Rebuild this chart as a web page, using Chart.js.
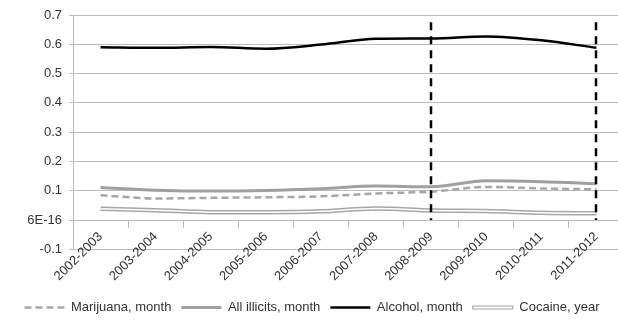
<!DOCTYPE html>
<html>
<head>
<meta charset="utf-8">
<script src="https://cdn.jsdelivr.net/npm/chart.js@4/dist/chart.umd.min.js"></script>
<style>
  html, body { margin: 0; padding: 0; background: #fff; overflow: hidden; }
  /* el area del grafico sobrepasa un poco el borde derecho, como en el original */
  #wrap { width: 624px; height: 324px; }
</style>
</head>
<body>
<div id="wrap"><canvas id="lineChart"></canvas></div>
<script>
// Periodos (eje X)
var periodos = ['2002-2003', '2003-2004', '2004-2005', '2005-2006', '2006-2007',
                '2007-2008', '2008-2009', '2009-2010', '2010-2011', '2011-2012'];

// Series
var marihuanaMes = [0.085, 0.074, 0.076, 0.078, 0.081, 0.091, 0.097, 0.113, 0.108, 0.105];
var ilicitasMes  = [0.111, 0.102, 0.099, 0.101, 0.107, 0.116, 0.114, 0.134, 0.131, 0.124];
var alcoholMes   = [0.590, 0.588, 0.591, 0.585, 0.599, 0.619, 0.620, 0.627, 0.614, 0.588];
var cocainaAnio  = [0.039, 0.034, 0.027, 0.027, 0.030, 0.040, 0.033, 0.031, 0.025, 0.023];

// Etiquetas del eje Y (tal cual salen en el original, incluido el 6E-16)
var etiquetasY = ['-0.1', '6E-16', '0.1', '0.2', '0.3', '0.4', '0.5', '0.6', '0.7'];

// Periodos marcados con linea vertical discontinua
var periodosMarcados = ['2008-2009', '2011-2012'];
var alturaMarca = 0.675;

var gris = '#bdbdbd';
var texto = '#333333';
var fuente = { family: "'Liberation Sans', Arial, sans-serif", size: 13 };

// lineas verticales discontinuas
var marcasPlugin = {
    id: 'marcas',
    afterDatasetsDraw: function (chart) {
        var ctx = chart.ctx;
        var x = chart.scales.x, y = chart.scales.y;
        ctx.save();
        ctx.strokeStyle = '#000';
        ctx.lineWidth = 2.5;
        ctx.setLineDash([8, 6]);
        periodosMarcados.forEach(function (p) {
            var px = Math.round(x.getPixelForValue(periodos.indexOf(p)));
            ctx.beginPath();
            ctx.moveTo(px, y.getPixelForValue(alturaMarca));
            ctx.lineTo(px, y.getPixelForValue(0));
            ctx.stroke();
        });
        ctx.restore();
    }
};

var ctx = document.getElementById('lineChart').getContext('2d');
var lineChart = new Chart(ctx, {
    type: 'line',
    data: {
        labels: periodos,
        datasets: [
            { label: 'Marijuana, month', data: marihuanaMes, borderColor: '#a6a6a6',
              borderWidth: 2.5, borderDash: [7, 4], order: 3 },
            { label: 'All illicits, month', data: ilicitasMes, borderColor: '#a0a0a0',
              borderWidth: 3, order: 4 },
            { label: 'Alcohol, month', data: alcoholMes, borderColor: '#000000',
              borderWidth: 2.5, order: 0 },
            { label: 'Cocaine, year', data: cocainaAnio, borderColor: '#a6a6a6',
              borderWidth: 4.5, order: 6 },
            // linea blanca interior para el efecto de doble linea
            { label: '_interior', data: cocainaAnio, borderColor: '#ffffff',
              borderWidth: 1.5, order: 5 }
        ]
    },
    options: {
        responsive: true,
        maintainAspectRatio: false,
        animation: false,
        layout: { padding: { left: 0, right: 0, top: 15, bottom: 0 } },
        elements: {
            point: { radius: 0, hoverRadius: 0 },
            line: { cubicInterpolationMode: 'monotone', fill: false }
        },
        plugins: {
            tooltip: { enabled: false },
            legend: {
                position: 'bottom',
                // titulo vacio: solo reserva el hueco de las etiquetas del eje X
                title: { display: true, text: '', font: { size: 13 }, padding: { top: 0, bottom: 26 } },
                labels: {
                    color: texto,
                    font: fuente,
                    usePointStyle: true,
                    pointStyleWidth: 40,
                    boxHeight: 3,
                    padding: 10,
                    generateLabels: function (chart) {
                        return chart.data.datasets
                            .filter(function (d) { return d.label !== '_interior'; })
                            .map(function (d, i) {
                                var doble = d.label === 'Cocaine, year';
                                return {
                                    text: d.label,
                                    datasetIndex: i,
                                    fontColor: texto,
                                    pointStyle: doble ? 'rect' : 'line',
                                    fillStyle: '#ffffff',
                                    strokeStyle: d.borderColor,
                                    lineWidth: doble ? 1.2 : d.borderWidth,
                                    lineDash: d.borderDash || [],
                                    hidden: false
                                };
                            });
                    }
                }
            }
        },
        scales: {
            x: {
                position: { y: 0 },
                offset: true,
                grid: { offset: true, drawOnChartArea: false, drawTicks: true, tickLength: 7, color: gris },
                border: { color: gris, width: 1 },
                ticks: { color: texto, font: fuente, minRotation: 45, maxRotation: 45, padding: 2 }
            },
            y: {
                min: -0.1,
                max: 0.7,
                afterFit: function (scale) { scale.width = 73; },
                grid: { color: gris, tickLength: 4 },
                border: { color: gris, width: 1 },
                ticks: {
                    stepSize: 0.1,
                    color: texto,
                    font: fuente,
                    padding: 7,
                    callback: function (v, i) { return etiquetasY[i]; }
                }
            }
        }
    },
    plugins: [marcasPlugin]
});
</script>
</body>
</html>
